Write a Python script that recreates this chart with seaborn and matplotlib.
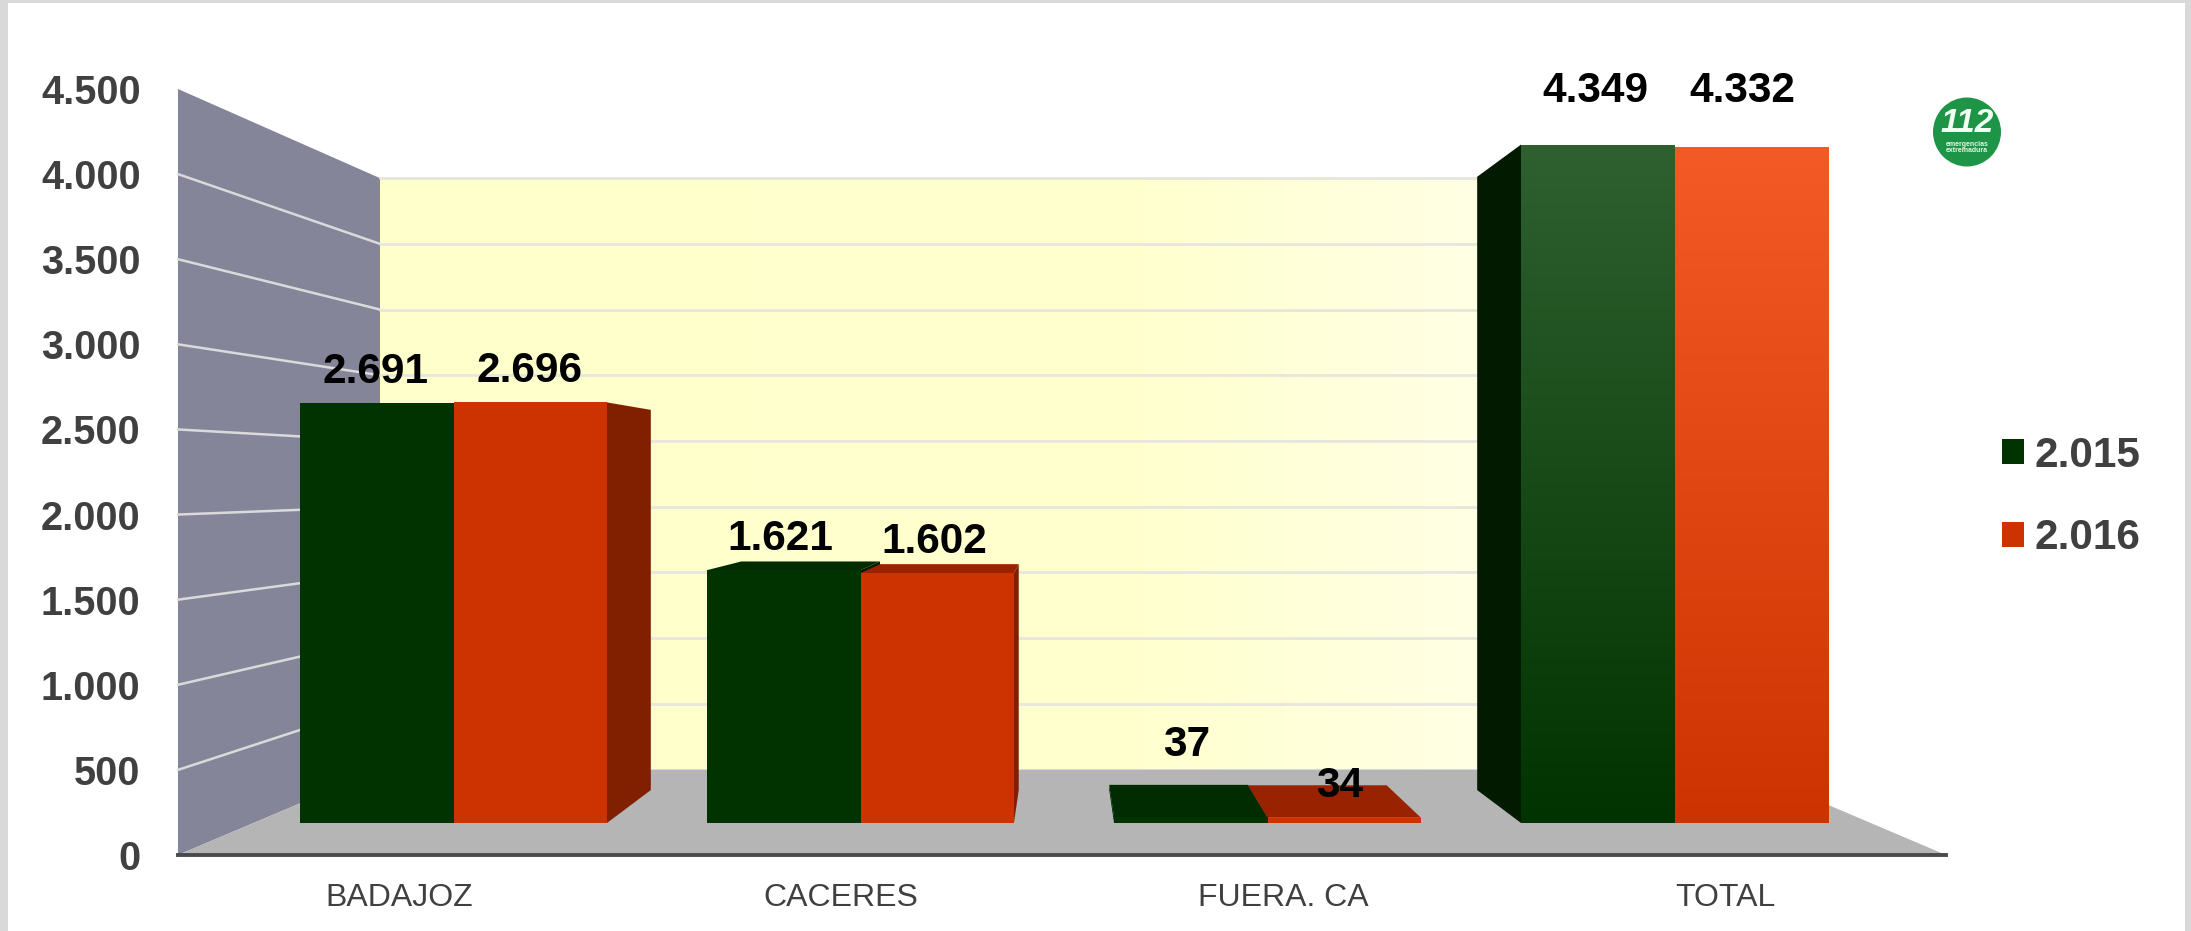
import numpy as np
import pandas as pd
import matplotlib
matplotlib.use("Agg")
import matplotlib.pyplot as plt
from matplotlib.patches import Ellipse, Polygon, Rectangle
import seaborn as sns

zonas = ["BADAJOZ", "CACERES", "FUERA. CA", "TOTAL"]
anios = ["2.015", "2.016"]
v2015 = [2691, 1621, 37, 4349]
v2016 = [2696, 1602, 34, 4332]
y_ticks = [0, 500, 1000, 1500, 2000, 2500, 3000, 3500, 4000, 4500]

W, H = 2191, 931
GREEN, RED = "#003300", "#CC3300"
SIDE = {GREEN: "#011A00", RED: "#802000"}
TOP = {GREEN: "#012B01", RED: "#992200"}
GREY_TXT = "#404040"

# perspective of the fake 3d box: all depth lines meet in this point
VP = np.array([1064.0, 480.0])
BAR_DEPTH = 0.904
WALL_DEPTH = 0.772

# label nudges in pixels (dx, dy above the bar top), same order as the bars
nudge_2015 = [(-1, 31), (-3, 31), (-4, 72), (-2, 54)]
nudge_2016 = [(-1, 31), (-3, 31), (-5, 32), (-9, 56)]

sns.set_theme(style="white")
plt.rcParams["font.family"] = ["Liberation Sans", "DejaVu Sans"]


def axes_at(fig, left, top, right, bottom, zorder):
    a = fig.add_axes([left / W, 1 - bottom / H, (right - left) / W, (bottom - top) / H], zorder=zorder)
    a.patch.set_alpha(0)
    return a


def to_px(a, x, y):
    dx, dy = a.transData.transform((x, y))
    return np.array([dx, H - dy])


def deep(p, s):
    return VP + s * (p - VP)


fig = plt.figure(figsize=(W / 100, H / 100), dpi=100, facecolor="white")

scene = axes_at(fig, 0, 0, W, H, 0)
front = axes_at(fig, 178, 89, 1946, 855, 1)
ax = axes_at(fig, 250, 121, 1878, 823, 2)

# axis plane with the tick labels
front.set_xlim(-0.5, 3.5)
front.set_ylim(0, 4500)
front.set_xticks(range(len(zonas)), zonas)
front.set_yticks(y_ticks, [f"{v:,}".replace(",", ".") for v in y_ticks])
front.tick_params(axis="y", length=0, pad=27, labelsize=28.5, labelcolor=GREY_TXT)
front.tick_params(axis="x", length=0, pad=20, labelsize=23, labelcolor=GREY_TXT)
for t in front.get_yticklabels():
    t.set_fontweight("bold")
for name, sp in front.spines.items():
    sp.set_visible(name == "bottom")
front.spines["bottom"].set_color("#4A4A4A")
front.spines["bottom"].set_linewidth(2.8)

# bars
df = pd.DataFrame({"zona": zonas * 2,
                   "anio": [anios[0]] * 4 + [anios[1]] * 4,
                   "valor": v2015 + v2016})
sns.barplot(data=df, x="zona", y="valor", hue="anio", hue_order=anios,
            palette=[GREEN, RED], width=0.754, gap=0, linewidth=0,
            saturation=1, ax=ax)
ax.set_xlim(-0.5, 3.5)
ax.set_ylim(0, 4500)

# walls and floor, worked out from the axis plane
scene.set_xlim(0, W)
scene.set_ylim(H, 0)
scene.set_axis_off()

fbl, fbr = to_px(front, -0.5, 0), to_px(front, 3.5, 0)
ftl = to_px(front, -0.5, 4500)
bbl, bbr = deep(fbl, WALL_DEPTH), deep(fbr, WALL_DEPTH)
btl, btr = deep(ftl, WALL_DEPTH), deep(to_px(front, 3.5, 4500), WALL_DEPTH)

scene.add_patch(Polygon([ftl, btl, bbl, fbl], color="#85859A", lw=0, zorder=1))
scene.add_patch(Polygon([fbl, bbl, bbr, fbr], color="#B5B5B5", lw=0, zorder=1))
blue = np.interp(np.linspace(0, 1, 400), [0, 0.55, 0.8, 1], [204, 206, 228, 240]) / 255
wall = np.dstack([np.ones(400), np.ones(400), blue]).reshape(1, 400, 3)
scene.imshow(wall, extent=(btl[0], btr[0], bbl[1], btl[1]), aspect="auto", zorder=1)
scene.set_xlim(0, W)
scene.set_ylim(H, 0)

for v in y_ticks[1:]:
    a, b = to_px(front, -0.5, v), to_px(front, 3.5, v)
    a2, b2 = deep(a, WALL_DEPTH), deep(b, WALL_DEPTH)
    if v < y_ticks[-1]:
        scene.plot([a[0], a2[0]], [a[1], a2[1]], color="#DADADA", lw=1.8, zorder=2)
    scene.plot([a2[0], b2[0]], [a2[1], b2[1]], color="#E6E6DE", lw=2, zorder=2)

# side and top faces of the bars
for cont, colour in zip(ax.containers, [GREEN, RED]):
    for bar in cont:
        x0, x1 = bar.get_x(), bar.get_x() + bar.get_width()
        h = bar.get_height()
        tl, tr = to_px(ax, x0, h), to_px(ax, x1, h)
        bl, br = to_px(ax, x0, 0), to_px(ax, x1, 0)
        if tl[0] > VP[0]:
            scene.add_patch(Polygon([tl, deep(tl, BAR_DEPTH), deep(bl, BAR_DEPTH), bl],
                                    color=SIDE[colour], lw=0, zorder=3))
        if tr[0] < VP[0]:
            scene.add_patch(Polygon([tr, deep(tr, BAR_DEPTH), deep(br, BAR_DEPTH), br],
                                    color=SIDE[colour], lw=0, zorder=3))
        if tl[1] > VP[1]:
            scene.add_patch(Polygon([tl, tr, deep(tr, BAR_DEPTH), deep(tl, BAR_DEPTH)],
                                    color=TOP[colour], lw=0, zorder=4))

# gradient on the TOTAL pair
ramps = [("#2F6130", GREEN), ("#F45A26", RED)]
for cont, (c_top, c_low) in zip(ax.containers, ramps):
    bar = cont[-1]
    rgb_top = np.array(matplotlib.colors.to_rgb(c_top))
    rgb_low = np.array(matplotlib.colors.to_rgb(c_low))
    t = np.linspace(0, 1, 256)[:, None]
    img = (rgb_top * (1 - t) + rgb_low * t).reshape(256, 1, 3)
    im = ax.imshow(img, extent=(bar.get_x(), bar.get_x() + bar.get_width(), 0, bar.get_height()),
                   aspect="auto", zorder=3)
    im.set_clip_path(bar)
ax.set_xlim(-0.5, 3.5)
ax.set_ylim(0, 4500)

# value labels
for cont, vals, nudges in zip(ax.containers, [v2015, v2016], [nudge_2015, nudge_2016]):
    for bar, v, (dx, dy) in zip(cont, vals, nudges):
        ax.annotate(f"{v:,}".replace(",", "."),
                    xy=(bar.get_x() + bar.get_width() / 2, v),
                    xytext=(dx, dy), textcoords="offset pixels",
                    ha="center", va="center", fontsize=30.5, fontweight="bold",
                    color="black", zorder=6)

sns.move_legend(ax, "center left", bbox_to_anchor=(2002 / W, 1 - 497 / H),
                bbox_transform=fig.transFigure, title=None, frameon=False,
                fontsize=30.5, handlelength=0.52, handleheight=0.52,
                handletextpad=0.24, labelspacing=1.0, borderpad=0, borderaxespad=0)
for t in ax.get_legend().get_texts():
    t.set_fontweight("bold")
    t.set_color(GREY_TXT)
ax.set_axis_off()

# 112 badge
scene.add_patch(Ellipse((1967, 132), 68, 69, color="#1E9447", lw=0, zorder=5))
scene.text(1967, 124, "112", color="#F2FFF2", fontsize=24, fontweight="bold", fontstyle="italic",
           ha="center", va="center", zorder=6)
scene.text(1967, 144, "emergencias", color="#E6F5E6", fontsize=5, fontweight="bold",
           ha="center", va="center", zorder=6)
scene.text(1967, 151, "extremadura", color="#E6F5E6", fontsize=5, fontweight="bold",
           ha="center", va="center", zorder=6)

# grey frame of the screenshot
frame = "#D9D9D9"
scene.add_patch(Rectangle((0, 0), 8, H, color=frame, lw=0, zorder=7))
scene.add_patch(Rectangle((0, 0), W, 3, color=frame, lw=0, zorder=7))
scene.add_patch(Rectangle((2185, 0), 6, H, color=frame, lw=0, zorder=7))

fig.savefig("out.png", dpi=100, facecolor="white")
